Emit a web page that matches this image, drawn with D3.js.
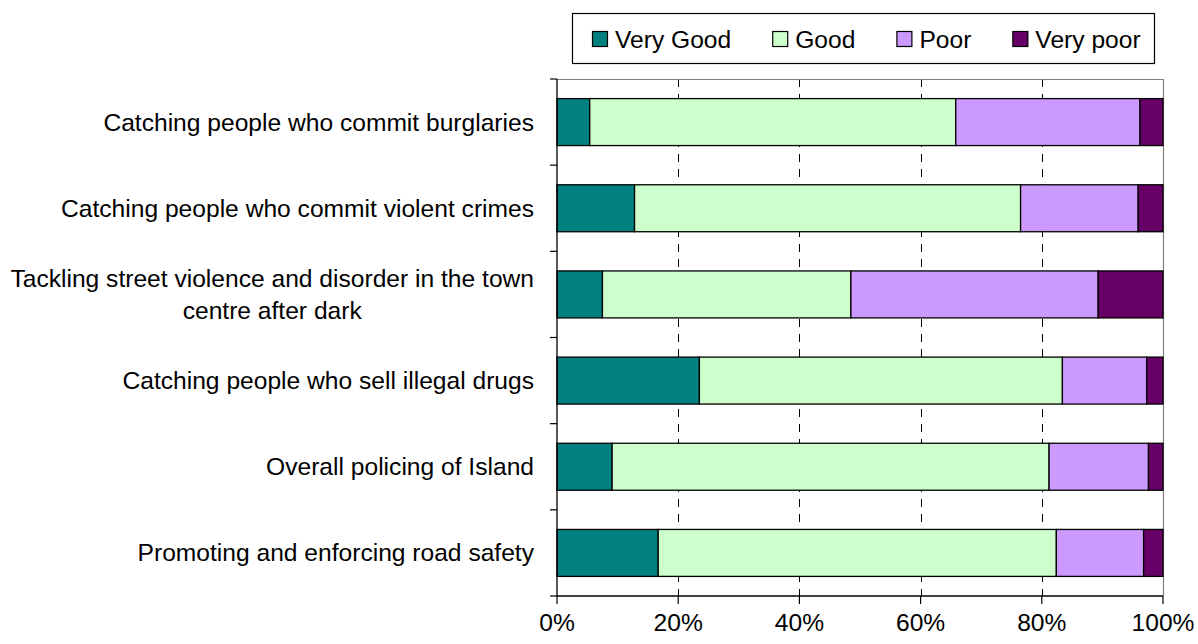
<!DOCTYPE html>
<html><head><meta charset="utf-8">
<script src="https://cdn.jsdelivr.net/npm/d3@7"></script>
<style>body{margin:0;background:#fff;} text{font-family:"Liberation Sans",Arial,sans-serif;fill:#000;}</style>
</head><body>
<svg id="chart" width="1198" height="644"></svg>
<script>
const categories = [
  "Catching people who commit burglaries",
  "Catching people who commit violent crimes",
  "Tackling street violence and disorder in the town|centre after dark",
  "Catching people who sell illegal drugs",
  "Overall policing of Island",
  "Promoting and enforcing road safety"
];
const seriesNames = ["Very Good", "Good", "Poor", "Very poor"];
const seriesColors = ["#008080", "#CCFFCC", "#CC99FF", "#660066"];
const veryGood = [5.4, 12.8, 7.5, 23.5, 9.1, 16.7];
const good     = [60.4, 63.7, 41.0, 59.9, 72.1, 65.7];
const poor     = [30.4, 19.4, 40.8, 13.9, 16.4, 14.4];
const veryPoor = [3.8, 4.1, 10.7, 2.7, 2.4, 3.2];
const xTicks = [0, 20, 40, 60, 80, 100];

const svg = d3.select("#chart");
const L = 557, R = 1163, T = 79, B = 596;
const fs = 24.6;

const rows = categories.map((c, i) => {
  const vals = [veryGood[i], good[i], poor[i], veryPoor[i]];
  const tot = d3.sum(vals);
  const o = {cat: c};
  seriesNames.forEach((s, j) => o[s] = vals[j] / tot * 100);
  return o;
});
const stack = d3.stack().keys(seriesNames)(rows);

const x = d3.scaleLinear().domain([0, 100]).range([L, R]);
const y = d3.scaleBand().domain(categories).range([T, B]).paddingInner(0.455).paddingOuter(0.2275);

// gridlines
svg.append("g").selectAll("line").data(xTicks.filter(t => t > 0 && t < 100)).join("line")
  .attr("x1", d => Math.round(x(d)) + 0.5).attr("x2", d => Math.round(x(d)) + 0.5)
  .attr("y1", T).attr("y2", B)
  .attr("stroke", "#000").attr("stroke-width", 1).attr("stroke-dasharray", "8,7");
// plot border top/right (gray)
svg.append("path").attr("d", `M${L},${T+0.5}H${R+0.5}V${B}`).attr("fill", "none").attr("stroke", "#808080").attr("stroke-width", 1.2);

// bars
svg.append("g").selectAll("g").data(stack).join("g")
  .attr("fill", (d, i) => seriesColors[i])
  .selectAll("rect").data(d => d).join("rect")
  .attr("x", d => x(d[0])).attr("width", d => x(d[1]) - x(d[0]))
  .attr("y", d => y(d.data.cat)).attr("height", y.bandwidth())
  .attr("stroke", "#000").attr("stroke-width", 1.3);

// axes
const step = y.step();
const yTickPos = d3.range(categories.length + 1).map(i => T + i * step);
svg.append("line").attr("x1", L).attr("x2", L).attr("y1", T).attr("y2", B).attr("stroke", "#000").attr("stroke-width", 1.3);
svg.append("g").selectAll("line").data(yTickPos).join("line")
  .attr("x1", L - 7).attr("x2", L).attr("y1", d => d).attr("y2", d => d).attr("stroke", "#000").attr("stroke-width", 1.2);
svg.append("line").attr("x1", L).attr("x2", R).attr("y1", B).attr("y2", B).attr("stroke", "#000").attr("stroke-width", 1.3);
svg.append("g").selectAll("line").data(xTicks).join("line")
  .attr("x1", d => x(d)).attr("x2", d => x(d)).attr("y1", B).attr("y2", B + 8).attr("stroke", "#000").attr("stroke-width", 1.2);
svg.append("g").selectAll("text").data(xTicks).join("text")
  .attr("x", d => x(d)).attr("y", 631).attr("text-anchor", "middle").attr("font-size", fs)
  .text(d => d + "%");

// category labels
svg.append("g").selectAll("text").data(categories).join("text")
  .attr("text-anchor", "end").attr("font-size", fs)
  .each(function(d) {
    const lines = d.split("|");
    const cy = y(d) + y.bandwidth() / 2;
    const lh = 31.7;
    const sel = d3.select(this);
    lines.forEach((ln, k) => {
      sel.append("tspan").attr("x", 534)
        .attr("y", cy + 8.5 + (k - (lines.length - 1) / 2) * lh).text(ln);
    });
  });
// center lines of multi-line label
svg.selectAll("text").filter(function(){ return this.childNodes.length > 1; }).each(function() {
  const ts = d3.select(this).selectAll("tspan").nodes();
  const w0 = d3.max(ts, t => t.getComputedTextLength());
  const center = 534 - w0 / 2;
  ts.forEach(t => d3.select(t).attr("x", center));
  d3.select(this).attr("text-anchor", "middle");
});

// legend
const lg = svg.append("g");
lg.append("rect").attr("x", 572.5).attr("y", 13.5).attr("width", 582).attr("height", 50)
  .attr("fill", "#fff").attr("stroke", "#000").attr("stroke-width", 1.2);
let lx = 592;
seriesNames.forEach((s, i) => {
  lg.append("rect").attr("x", lx + 0.5).attr("y", 31.5).attr("width", 15).attr("height", 15)
    .attr("fill", seriesColors[i]).attr("stroke", "#000").attr("stroke-width", 1.2);
  const t = lg.append("text").attr("x", lx + 23).attr("y", 47.5).attr("font-size", fs).text(s);
  lx = lx + 23 + t.node().getComputedTextLength() + 41;
});
</script>
</body></html>
